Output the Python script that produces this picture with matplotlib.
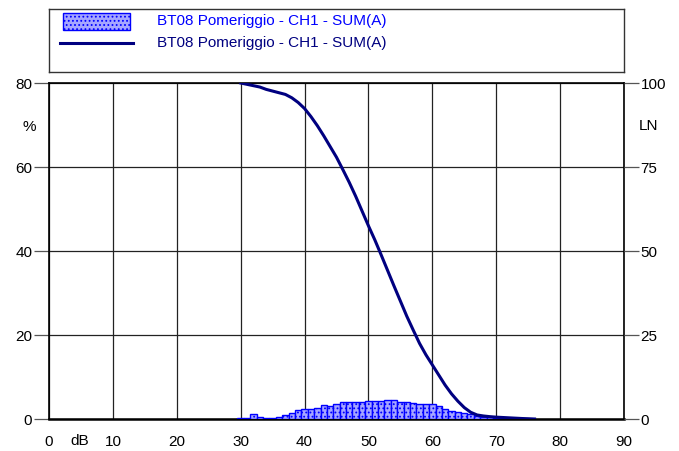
import matplotlib
matplotlib.use("Agg")
import matplotlib.pyplot as plt
from matplotlib.patches import Rectangle
from matplotlib.lines import Line2D

plt.rcParams['font.family'] = ['Liberation Sans', 'DejaVu Sans']
plt.rcParams['hatch.linewidth'] = 0.8

series_name = "BT08 Pomeriggio - CH1 - SUM(A)"

# histogram (% of time per dB class)
bar_db = list(range(30, 76))
bar_pct = [0.15, 0.2, 1.1, 0.56, 0.32, 0.16, 0.56, 0.87, 1.43, 2.22,
           2.46, 2.38, 2.70, 3.41, 3.17, 3.49, 3.97, 3.97, 4.13, 4.13,
           4.37, 4.37, 4.37, 4.6, 4.6, 4.13, 3.97, 3.73, 3.57, 3.57,
           3.65, 3.0, 2.38, 1.98, 1.59, 1.35, 1.1, 0.8, 0.55, 0.4,
           0.3, 0.2, 0.15, 0.1, 0.08, 0.05]

# cumulative LN curve
ln_db = list(range(30, 77))
ln_val = [100, 99.6, 99.2, 98.8, 98.1, 97.6, 97.1, 96.6, 95.6, 94.2,
          92.4, 90.0, 87.3, 84.3, 81.1, 77.9, 74.2, 70.4, 66.3, 61.9,
          57.5, 53.3, 48.8, 44.2, 39.6, 35.1, 30.6, 26.5, 22.5, 19.1,
          16.1, 13.1, 10.1, 7.5, 5.3, 3.4, 2.0, 1.2, 0.9, 0.7,
          0.55, 0.45, 0.35, 0.25, 0.15, 0.08, 0.0]

x_ticks = [0, 10, 20, 30, 40, 50, 60, 70, 80, 90]
left_ticks = [0, 20, 40, 60, 80]
right_ticks = [0, 25, 50, 75, 100]

W, H = 679, 452
fig = plt.figure(figsize=(W / 100, H / 100), dpi=100)

def frac(x0, y0, x1, y1):
    return [x0 / W, 1 - y1 / H, (x1 - x0) / W, (y1 - y0) / H]

ax = fig.add_axes(frac(49, 84, 624, 420))
ax.set_xlim(0, 90)
ax.set_ylim(0, 80)
bar_face = '#a6a6ff'
bar_edge = '#0000ff'
ax.bar(bar_db, bar_pct, width=1.0, align='center', color=bar_face,
       edgecolor=bar_edge, linewidth=1.0, hatch='....', zorder=3)

ax.set_xticks(x_ticks)
ax.set_yticks(left_ticks)
ax.grid(True, color='#222222', linewidth=0.9, zorder=0)
ax.tick_params(axis='x', length=0, pad=11, labelsize=11)
ax.tick_params(axis='y', length=11, width=0.9, pad=1, labelsize=11, color='#555555')
for s in ax.spines.values():
    s.set_linewidth(1.2)
    s.set_color('black')
ax.spines['bottom'].set_linewidth(1.8)

ax2 = ax.twinx()
ax2.set_ylim(0, 100)
ax2.set_yticks(right_ticks)
ax2.tick_params(axis='y', length=11, width=0.9, pad=1, labelsize=11, color='#555555')
ax2.plot(ln_db, ln_val, color='#000080', linewidth=2.2, zorder=4)
for s in ax2.spines.values():
    s.set_visible(False)

fig.text(80 / W, 1 - 441 / H, 'dB', ha='center', va='center', fontsize=11)
fig.text(29 / W, 1 - 127 / H, '%', ha='center', va='center', fontsize=11)
fig.text(649 / W, 1 - 126 / H, 'LN', ha='center', va='center', fontsize=11)

# legend box
lax = fig.add_axes(frac(49, 10, 624, 73))
lax.set_xlim(0, 575)
lax.set_ylim(63, 0)
lax.set_xticks([])
lax.set_yticks([])
for s in lax.spines.values():
    s.set_linewidth(1.0)
    s.set_color('#333333')
lax.add_patch(Rectangle((14, 4), 67, 17, facecolor=bar_face, edgecolor=bar_edge,
                        linewidth=1.0, hatch='....'))
lax.add_line(Line2D([11, 84], [34, 34], color='#000080', linewidth=2.2))
lax.text(108, 11, series_name, color='#0000ff', fontsize=11, va='center', ha='left')
lax.text(108, 33, series_name, color='#000080', fontsize=11, va='center', ha='left')

fig.savefig('out.png', dpi=100)
